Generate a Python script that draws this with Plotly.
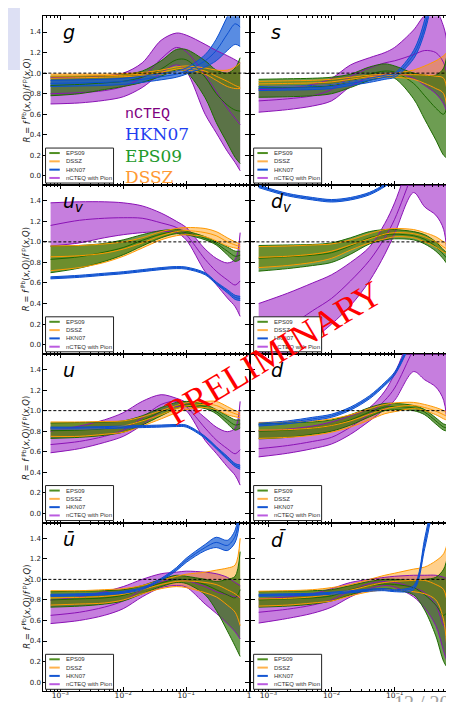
import plotly.graph_objects as go

# ---------------- data (ratios R) ----------------
X = [7e-4, 2e-3, 5e-3, 1e-2, 2e-2, 4e-2, 7e-2, 0.1, 0.2, 0.3, 0.45, 0.6, 0.72]

# each series: (lower edge, central, upper edge)
G_NCTEQ = ([0.70, 0.71, 0.735, 0.77, 0.86, 1.00, 1.08, 1.02, 0.60, 0.42, 0.24, 0.13, 0.05],
           [0.80, 0.81, 0.83, 0.87, 0.96, 1.14, 1.25, 1.21, 0.98, 0.82, 0.66, 0.56, 0.50],
           [0.955, 0.96, 0.975, 1.00, 1.10, 1.32, 1.39, 1.37, 1.28, 1.22, 1.17, 1.13, 1.10])
G_EPS09 = ([0.78, 0.80, 0.84, 0.87, 0.91, 0.97, 1.03, 1.01, 0.76, 0.52, 0.32, 0.18, 0.12],
           [0.88, 0.89, 0.905, 0.92, 0.96, 1.04, 1.13, 1.13, 0.96, 0.80, 0.69, 0.64, 0.63],
           [0.97, 0.97, 0.975, 0.985, 1.02, 1.12, 1.23, 1.23, 1.12, 1.03, 1.00, 1.05, 1.15])
G_DSSZ = ([0.95, 0.955, 0.96, 0.965, 0.975, 0.99, 1.02, 1.03, 0.99, 0.93, 0.87, 0.85, 0.85],
          [0.97, 0.972, 0.975, 0.98, 0.99, 1.01, 1.04, 1.05, 1.02, 0.97, 0.92, 0.88, 0.86],
          [0.99, 0.99, 0.99, 0.995, 1.005, 1.03, 1.06, 1.07, 1.05, 1.03, 1.03, 1.06, 1.10])
G_HKN07 = ([0.87, 0.875, 0.88, 0.89, 0.91, 0.935, 0.96, 0.99, 1.06, 1.12, 1.22, 1.28, 1.26],
           [0.90, 0.905, 0.91, 0.92, 0.94, 0.965, 0.99, 1.02, 1.12, 1.22, 1.38, 1.48, 1.45],
           [0.93, 0.935, 0.94, 0.95, 0.97, 0.995, 1.02, 1.05, 1.18, 1.33, 1.55, 1.70, 1.75])

S_NCTEQ = ([0.62, 0.645, 0.68, 0.73, 0.87, 0.96, 0.99, 1.00, 0.95, 0.88, 0.80, 0.70, 0.55],
           [0.73, 0.75, 0.78, 0.84, 0.97, 1.05, 1.10, 1.12, 1.18, 1.22, 1.20, 1.10, 0.90],
           [0.84, 0.855, 0.89, 0.95, 1.08, 1.15, 1.20, 1.25, 1.42, 1.56, 1.60, 1.45, 1.20])
S_EPS09 = ([0.765, 0.77, 0.78, 0.80, 0.86, 0.93, 0.96, 0.95, 0.75, 0.55, 0.35, 0.20, 0.16],
           [0.855, 0.86, 0.865, 0.88, 0.92, 0.99, 1.02, 1.01, 0.90, 0.78, 0.66, 0.60, 0.75],
           [0.94, 0.945, 0.95, 0.96, 0.99, 1.06, 1.09, 1.07, 1.00, 0.98, 0.98, 1.05, 1.35])
S_DSSZ = ([0.87, 0.875, 0.88, 0.89, 0.92, 0.95, 0.96, 0.96, 0.94, 0.90, 0.85, 0.80, -0.20],
          [0.895, 0.90, 0.905, 0.915, 0.94, 0.965, 0.975, 0.98, 0.985, 0.98, 0.97, 0.95, 0.50],
          [0.92, 0.925, 0.93, 0.94, 0.96, 0.98, 0.99, 1.00, 1.03, 1.07, 1.12, 1.17, 1.22])
S_HKN07 = ([0.83, 0.835, 0.84, 0.85, 0.88, 0.91, 0.94, 0.96, 1.14, 1.40, 1.90, 2.30, 2.60],
           [0.85, 0.855, 0.86, 0.87, 0.90, 0.93, 0.96, 0.98, 1.18, 1.45, 2.00, 2.50, 2.90],
           [0.87, 0.875, 0.88, 0.89, 0.92, 0.95, 0.98, 1.00, 1.22, 1.52, 2.10, 2.70, 3.20])

UV_NCTEQ = ([0.96, 0.99, 1.04, 1.07, 1.09, 1.10, 1.09, 1.02, 0.71, 0.585, 0.455, 0.37, 0.275],
            [1.16, 1.21, 1.23, 1.235, 1.23, 1.185, 1.14, 1.07, 0.83, 0.715, 0.63, 0.58, 0.62],
            [1.38, 1.39, 1.39, 1.38, 1.35, 1.28, 1.20, 1.14, 0.93, 0.84, 0.795, 0.83, 1.09])
UV_EPS09 = ([0.70, 0.745, 0.81, 0.875, 0.96, 1.04, 1.08, 1.07, 1.02, 0.97, 0.875, 0.81, 0.83],
            [0.83, 0.855, 0.90, 0.945, 1.015, 1.075, 1.10, 1.09, 1.035, 0.985, 0.91, 0.86, 0.87],
            [0.958, 0.965, 0.985, 1.02, 1.07, 1.11, 1.12, 1.105, 1.05, 1.00, 0.95, 0.91, 0.91])
UV_DSSZ = ([0.72, 0.75, 0.80, 0.86, 0.94, 1.02, 1.06, 1.07, 1.05, 1.01, 0.96, 0.94, 0.93],
           [0.855, 0.865, 0.89, 0.93, 0.99, 1.06, 1.10, 1.11, 1.09, 1.06, 1.00, 0.97, 0.955],
           [0.96, 0.965, 0.98, 1.00, 1.04, 1.10, 1.13, 1.14, 1.13, 1.10, 1.04, 1.00, 0.98])
UV_HKN07 = ([0.64, 0.655, 0.675, 0.69, 0.71, 0.73, 0.74, 0.735, 0.68, 0.59, 0.505, 0.44, 0.43],
            [0.65, 0.665, 0.685, 0.70, 0.72, 0.74, 0.75, 0.745, 0.69, 0.60, 0.52, 0.46, 0.45],
            [0.66, 0.675, 0.695, 0.71, 0.73, 0.75, 0.76, 0.755, 0.70, 0.61, 0.535, 0.48, 0.47])

DV_NCTEQ = ([-0.30, -0.12, 0.05, 0.20, 0.38, 0.62, 0.88, 1.08, 1.48, 1.34, 1.26, 1.12, 0.58],
            [0.05, 0.17, 0.33, 0.45, 0.62, 0.82, 1.04, 1.22, 1.70, 2.00, 2.20, 2.20, 2.00],
            [0.40, 0.50, 0.60, 0.68, 0.80, 0.95, 1.18, 1.38, 1.90, 2.20, 2.40, 2.40, 2.40])
DV_EPS09 = ([0.715, 0.74, 0.77, 0.80, 0.88, 0.98, 1.02, 1.03, 1.02, 0.98, 0.91, 0.83, 0.76],
            [0.84, 0.855, 0.87, 0.895, 0.96, 1.04, 1.07, 1.075, 1.06, 1.025, 0.955, 0.875, 0.82],
            [0.965, 0.97, 0.975, 0.99, 1.04, 1.10, 1.12, 1.12, 1.10, 1.07, 1.00, 0.92, 0.88])
DV_DSSZ = ([0.75, 0.77, 0.80, 0.84, 0.92, 0.99, 1.03, 1.05, 1.04, 1.00, 0.95, 0.90, 0.88],
           [0.85, 0.86, 0.88, 0.91, 0.97, 1.03, 1.075, 1.09, 1.08, 1.05, 1.00, 0.95, 0.92],
           [0.955, 0.96, 0.97, 0.98, 1.02, 1.08, 1.12, 1.13, 1.12, 1.09, 1.05, 1.00, 0.97])
DV_HKN07 = ([1.528, 1.448, 1.408, 1.388, 1.408, 1.458, 1.538, 1.608, 1.84, 1.99, 2.19, 2.29, 2.39],
            [1.54, 1.46, 1.42, 1.40, 1.42, 1.47, 1.55, 1.62, 1.85, 2.00, 2.20, 2.30, 2.40],
            [1.552, 1.472, 1.432, 1.412, 1.432, 1.482, 1.562, 1.632, 1.86, 2.01, 2.21, 2.31, 2.41])

U_NCTEQ = ([0.59, 0.63, 0.69, 0.75, 0.86, 0.99, 1.04, 1.00, 0.71, 0.585, 0.455, 0.37, 0.275],
           [0.67, 0.70, 0.75, 0.81, 0.93, 1.06, 1.09, 1.04, 0.83, 0.715, 0.63, 0.58, 0.62],
           [0.80, 0.85, 0.91, 0.98, 1.09, 1.155, 1.12, 1.08, 0.93, 0.84, 0.795, 0.83, 1.09])
U_EPS09 = ([0.73, 0.74, 0.76, 0.79, 0.86, 0.95, 1.02, 1.04, 1.02, 0.97, 0.875, 0.81, 0.83],
           [0.805, 0.81, 0.825, 0.845, 0.905, 0.99, 1.05, 1.065, 1.04, 0.99, 0.91, 0.86, 0.87],
           [0.88, 0.885, 0.89, 0.90, 0.95, 1.03, 1.08, 1.09, 1.06, 1.01, 0.95, 0.91, 0.91])
U_DSSZ = ([0.75, 0.75, 0.77, 0.79, 0.85, 0.92, 0.98, 1.01, 1.03, 1.01, 0.96, 0.94, 0.93],
          [0.82, 0.82, 0.83, 0.85, 0.90, 0.96, 1.02, 1.045, 1.06, 1.05, 1.00, 0.97, 0.955],
          [0.89, 0.89, 0.895, 0.90, 0.94, 1.00, 1.05, 1.075, 1.09, 1.09, 1.04, 1.00, 0.98])
U_HKN07 = ([0.82, 0.82, 0.825, 0.83, 0.835, 0.84, 0.845, 0.84, 0.73, 0.63, 0.525, 0.455, 0.43],
           [0.83, 0.83, 0.835, 0.84, 0.845, 0.85, 0.855, 0.85, 0.74, 0.64, 0.54, 0.47, 0.45],
           [0.84, 0.84, 0.845, 0.85, 0.855, 0.86, 0.865, 0.86, 0.75, 0.65, 0.555, 0.485, 0.47])

D_NCTEQ = ([0.55, 0.585, 0.63, 0.675, 0.77, 0.90, 1.015, 1.10, 1.38, 1.30, 1.23, 1.10, 0.65],
           [0.63, 0.66, 0.70, 0.74, 0.84, 0.97, 1.10, 1.22, 1.60, 1.80, 1.90, 1.90, 1.90],
           [0.805, 0.82, 0.85, 0.89, 0.95, 1.03, 1.19, 1.36, 1.80, 2.00, 2.10, 2.10, 2.10])
D_EPS09 = ([0.725, 0.74, 0.77, 0.80, 0.86, 0.94, 1.00, 1.01, 1.00, 0.96, 0.87, 0.81, 0.80],
           [0.80, 0.81, 0.83, 0.855, 0.91, 0.985, 1.035, 1.04, 1.025, 0.985, 0.90, 0.84, 0.83],
           [0.87, 0.88, 0.89, 0.91, 0.96, 1.03, 1.07, 1.07, 1.05, 1.01, 0.93, 0.87, 0.86])
D_DSSZ = ([0.73, 0.74, 0.76, 0.79, 0.84, 0.91, 0.97, 0.99, 1.02, 1.00, 0.96, 0.92, 0.90],
          [0.81, 0.815, 0.83, 0.855, 0.90, 0.965, 1.015, 1.035, 1.05, 1.03, 0.995, 0.96, 0.935],
          [0.885, 0.89, 0.90, 0.92, 0.96, 1.02, 1.06, 1.075, 1.08, 1.06, 1.03, 1.00, 0.97])
D_HKN07 = ([0.85, 0.872, 0.905, 0.935, 1.005, 1.115, 1.245, 1.345, 1.73, 2.08, 2.38, 2.68, 2.88],
           [0.864, 0.886, 0.92, 0.95, 1.02, 1.13, 1.26, 1.36, 1.75, 2.10, 2.40, 2.70, 2.90],
           [0.878, 0.90, 0.935, 0.965, 1.035, 1.145, 1.275, 1.375, 1.77, 2.12, 2.42, 2.72, 2.92])

UB_NCTEQ = ([0.57, 0.60, 0.65, 0.715, 0.83, 0.92, 0.94, 0.925, 0.76, 0.67, 0.57, 0.49, 0.42],
            [0.65, 0.68, 0.73, 0.79, 0.90, 0.98, 1.00, 0.99, 0.93, 0.88, 0.85, 0.83, 0.83],
            [0.80, 0.83, 0.88, 0.93, 1.00, 1.055, 1.07, 1.08, 1.07, 1.055, 1.02, 0.97, 0.94])
UB_EPS09 = ([0.73, 0.74, 0.76, 0.79, 0.86, 0.93, 0.97, 0.96, 0.85, 0.70, 0.50, 0.35, 0.25],
            [0.80, 0.81, 0.82, 0.845, 0.90, 0.965, 1.00, 0.995, 0.95, 0.90, 0.85, 0.82, 0.90],
            [0.88, 0.885, 0.89, 0.90, 0.94, 1.00, 1.04, 1.03, 1.00, 0.98, 1.00, 1.03, 1.27])
UB_DSSZ = ([0.75, 0.76, 0.77, 0.80, 0.86, 0.91, 0.93, 0.92, 0.87, 0.83, 0.75, 0.68, 0.55],
           [0.82, 0.825, 0.835, 0.855, 0.90, 0.95, 0.98, 0.985, 0.97, 0.95, 0.90, 0.86, 0.82],
           [0.89, 0.89, 0.90, 0.91, 0.94, 0.99, 1.03, 1.05, 1.07, 1.09, 1.11, 1.14, 1.40])
UB_HKN07 = ([0.835, 0.84, 0.85, 0.865, 0.90, 0.99, 1.085, 1.165, 1.28, 1.31, 1.28, 1.36, 1.60],
            [0.845, 0.85, 0.86, 0.875, 0.91, 1.00, 1.10, 1.185, 1.31, 1.36, 1.33, 1.42, 1.70],
            [0.855, 0.86, 0.87, 0.885, 0.92, 1.01, 1.115, 1.205, 1.34, 1.41, 1.38, 1.48, 1.80])

DB_NCTEQ = ([0.575, 0.62, 0.67, 0.73, 0.83, 0.91, 0.94, 0.925, 0.83, 0.72, 0.55, 0.30, 0.15],
            [0.68, 0.71, 0.75, 0.80, 0.89, 0.96, 0.98, 0.97, 0.92, 0.87, 0.75, 0.55, 0.50],
            [0.81, 0.83, 0.86, 0.91, 0.97, 1.00, 1.02, 1.03, 1.04, 1.04, 1.04, 1.02, 1.00])
DB_EPS09 = ([0.73, 0.74, 0.76, 0.79, 0.85, 0.90, 0.91, 0.90, 0.85, 0.70, 0.45, 0.20, 0.12],
            [0.80, 0.81, 0.82, 0.84, 0.90, 0.94, 0.955, 0.95, 0.92, 0.85, 0.75, 0.65, 0.70],
            [0.88, 0.885, 0.89, 0.90, 0.94, 0.98, 1.00, 1.00, 0.99, 1.00, 1.02, 1.10, 1.28])
DB_DSSZ = ([0.74, 0.75, 0.77, 0.79, 0.84, 0.88, 0.90, 0.90, 0.88, 0.86, 0.80, 0.60, -0.05],
           [0.81, 0.815, 0.83, 0.855, 0.895, 0.94, 0.97, 0.98, 0.99, 0.99, 0.95, 0.90, 0.65],
           [0.885, 0.89, 0.90, 0.92, 0.95, 1.00, 1.04, 1.06, 1.10, 1.12, 1.18, 1.25, 1.42])
DB_HKN07 = ([0.835, 0.84, 0.845, 0.855, 0.87, 0.885, 0.89, 0.88, 0.90, 1.30, 1.85, 2.25, 2.55],
            [0.845, 0.85, 0.855, 0.865, 0.88, 0.895, 0.90, 0.89, 0.92, 1.35, 1.90, 2.30, 2.60],
            [0.855, 0.86, 0.865, 0.875, 0.89, 0.905, 0.91, 0.90, 0.94, 1.40, 1.95, 2.35, 2.65])

PANEL_LABELS = ["<i>g</i>", "<i>s</i>", "<i>u</i><sub><i>v</i></sub>", "<i>d</i><sub><i>v</i></sub>",
                "<i>u</i>", "<i>d</i>", "<i>u\u0304</i>", "<i>d\u0304</i>"]
LEGEND_NAMES = ["EPS09", "DSSZ", "HKN07", "nCTEQ with Pion"]
Y_TICKS = [0.0, 0.2, 0.4, 0.6, 0.8, 1.0, 1.2, 1.4]
X_TICKS = [1e-3, 1e-2, 1e-1, 1.0]
X_TICK_TEXT = ["10<sup>\u22123</sup>", "10<sup>\u22122</sup>", "10<sup>\u22121</sup>", "1"]

PANELS = [
    (G_NCTEQ, G_EPS09, G_DSSZ, G_HKN07),
    (S_NCTEQ, S_EPS09, S_DSSZ, S_HKN07),
    (UV_NCTEQ, UV_EPS09, UV_DSSZ, UV_HKN07),
    (DV_NCTEQ, DV_EPS09, DV_DSSZ, DV_HKN07),
    (U_NCTEQ, U_EPS09, U_DSSZ, U_HKN07),
    (D_NCTEQ, D_EPS09, D_DSSZ, D_HKN07),
    (UB_NCTEQ, UB_EPS09, UB_DSSZ, UB_HKN07),
    (DB_NCTEQ, DB_EPS09, DB_DSSZ, DB_HKN07),
]

# ---------------- styling ----------------
W, H = 454, 702
COLS = [(35.5, 242.5), (244.5, 452.0)]
ROW_TOP, ROW_H = 8.3, 168.75
YR = [-0.089, 1.553]

FILL = {"ncteq": "rgba(160,40,200,0.6)", "eps09": "rgba(40,110,0,0.68)",
        "dssz": "rgba(255,150,0,0.45)", "hkn07": "rgba(25,95,215,0.72)"}
EDGE = {"ncteq": "#8a12b5", "eps09": "#1d6a00", "dssz": "#ff9900", "hkn07": "#0c4fd0"}
LEG_COL = ["#4f8f22", "#ffb24d", "#1456d2", "#bb5be0"]

minor_vals = [k * 10.0 ** e for e in (-4, -3, -2, -1) for k in range(2, 10)]

fig = go.Figure()
layout = dict(width=W, height=H, margin=dict(l=0, r=0, t=0, b=0),
              paper_bgcolor="white", plot_bgcolor="rgba(0,0,0,0)", showlegend=False,
              font=dict(family="DejaVu Sans", size=7, color="#222"))
shapes, annotations = [], []

for i, (ncteq, eps09, dssz, hkn07) in enumerate(PANELS):
    r, c = divmod(i, 2)
    sfx = "" if i == 0 else str(i + 1)
    xa, ya = "x" + sfx, "y" + sfx
    series = {"ncteq": ncteq, "eps09": eps09, "dssz": dssz, "hkn07": hkn07}
    # fills
    for key in ["ncteq", "dssz", "eps09", "hkn07"]:
        lo, mid, hi = series[key]
        fig.add_trace(go.Scatter(x=X, y=lo, xaxis=xa, yaxis=ya, mode="lines",
                                 line=dict(width=0, shape="spline", smoothing=0.9),
                                 hoverinfo="skip"))
        fig.add_trace(go.Scatter(x=X, y=hi, xaxis=xa, yaxis=ya, mode="lines",
                                 line=dict(width=0, shape="spline", smoothing=0.9),
                                 fill="tonexty", fillcolor=FILL[key], hoverinfo="skip"))
    # edge and central lines
    for key in ["ncteq", "eps09", "dssz", "hkn07"]:
        for arr in series[key]:
            fig.add_trace(go.Scatter(x=X, y=arr, xaxis=xa, yaxis=ya, mode="lines",
                                     line=dict(width=1.0, color=EDGE[key], shape="spline", smoothing=0.9),
                                     hoverinfo="skip"))

    x0, x1 = COLS[c]
    top = ROW_TOP + r * ROW_H
    bot = top + ROW_H
    xaxis = dict(type="log", range=[-3.27, 0.005], domain=[x0 / W, x1 / W], anchor=ya,
                 tickmode="array", tickvals=X_TICKS, ticktext=X_TICK_TEXT,
                 showticklabels=(r == 3), ticks="inside", ticklen=4, tickwidth=1, tickcolor="black",
                 ticklabelstandoff=-3,
                 minor=dict(tickmode="array", tickvals=minor_vals, ticks="inside", ticklen=2,
                            tickwidth=1, tickcolor="black", showgrid=False),
                 showline=True, linecolor="black", linewidth=1, mirror="allticks",
                 showgrid=False, zeroline=False, tickfont=dict(size=7.5, color="#222"))
    yaxis = dict(range=YR, domain=[1 - bot / H, 1 - top / H], anchor=xa,
                 tickmode="array", tickvals=Y_TICKS, ticktext=["%.1f" % v for v in Y_TICKS],
                 showticklabels=(c == 0), ticks="inside", ticklen=4, tickwidth=1, tickcolor="black",
                 showline=True, linecolor="black", linewidth=1, mirror="allticks",
                 showgrid=False, zeroline=False, tickfont=dict(size=7, color="#222"))
    layout["xaxis" + sfx] = xaxis
    layout["yaxis" + sfx] = yaxis

    xd, yd = xa + " domain", ya + " domain"
    # dashed unity line
    shapes.append(dict(type="line", xref=xd, yref=ya, x0=0, x1=1, y0=1, y1=1,
                       line=dict(color="black", width=1, dash="3px,2px")))
    # legend box
    pw = x1 - x0
    shapes.append(dict(type="rect", xref=xd, yref=yd, x0=2.2 / pw, x1=70.5 / pw,
                       y0=2.0 / ROW_H, y1=37.0 / ROW_H, fillcolor="white",
                       line=dict(color="#222", width=1)))
    for k, (name, col) in enumerate(zip(LEGEND_NAMES, LEG_COL)):
        yy = (32.0 - 8.3 * k) / ROW_H
        shapes.append(dict(type="line", xref=xd, yref=yd, x0=6.0 / pw, x1=16.5 / pw, y0=yy, y1=yy,
                           line=dict(color=col, width=2)))
        annotations.append(dict(xref=xd, yref=yd, x=20.5 / pw, y=yy, text=name, showarrow=False,
                                xanchor="left", yanchor="middle",
                                font=dict(family="Liberation Sans", size=6, color="#333")))
    # panel label
    annotations.append(dict(xref=xd, yref=yd, x=18.0 / pw, y=1 - 3.0 / ROW_H, text=PANEL_LABELS[i],
                            showarrow=False, xanchor="left", yanchor="top",
                            font=dict(family="DejaVu Sans", size=19, color="black")))
    if c == 0:
        annotations.append(dict(xref="paper", yref="paper", x=18.0 / W, y=1 - (top + ROW_H / 2) / H,
                                text="<i>R</i> = <i>f</i><sup> Pb</sup>(<i>x,Q</i>)/<i>f</i><sup> p</sup>(<i>x,Q</i>)",
                                textangle=-90, showarrow=False, xanchor="center", yanchor="middle",
                                font=dict(family="DejaVu Sans", size=8.5, color="#222")))
    if r == 3:
        annotations.append(dict(xref="paper", yref="paper", x=(x0 + x1) / 2 / W, y=1 - 697.0 / H,
                                text="x", showarrow=False, xanchor="center", yanchor="middle",
                                font=dict(family="DejaVu Sans", size=8, color="#222")))

# big colour key in the gluon panel
for txt, col, fam, size, yc in [("nCTEQ", "#800080", "Liberation Mono", 15, 106),
                                ("HKN07", "#1f3ff0", "DejaVu Serif", 17, 126),
                                ("EPS09", "#23992a", "DejaVu Serif", 17, 147.5),
                                ("DSSZ", "#ff9933", "DejaVu Serif", 17, 169)]:
    annotations.append(dict(xref="paper", yref="paper", x=116.0 / W, y=1 - yc / H, text=txt,
                            showarrow=False, xanchor="left", yanchor="middle",
                            font=dict(family=fam, size=size, color=col)))

# watermark and slide furniture
annotations.append(dict(xref="paper", yref="paper", x=267.0 / W, y=1 - 345.0 / H, text="PRELIMINARY",
                        textangle=-31, showarrow=False, xanchor="center", yanchor="middle",
                        font=dict(family="Liberation Serif", size=36, color="red")))
annotations.append(dict(xref="paper", yref="paper", x=415.5 / W, y=1 - 695.0 / H, text="12 / 20",
                        showarrow=False, xanchor="center", yanchor="middle",
                        font=dict(family="Liberation Serif", size=20, color="#a0a0a0")))
shapes.append(dict(type="rect", xref="paper", yref="paper", x0=0, x1=12.0 / W, y0=1 - 62.0 / H, y1=1,
                   fillcolor="#dde0f4", line=dict(width=0), layer="below"))

layout["shapes"] = shapes
layout["annotations"] = annotations
fig.update_layout(**layout)
fig.write_html("out.html")
